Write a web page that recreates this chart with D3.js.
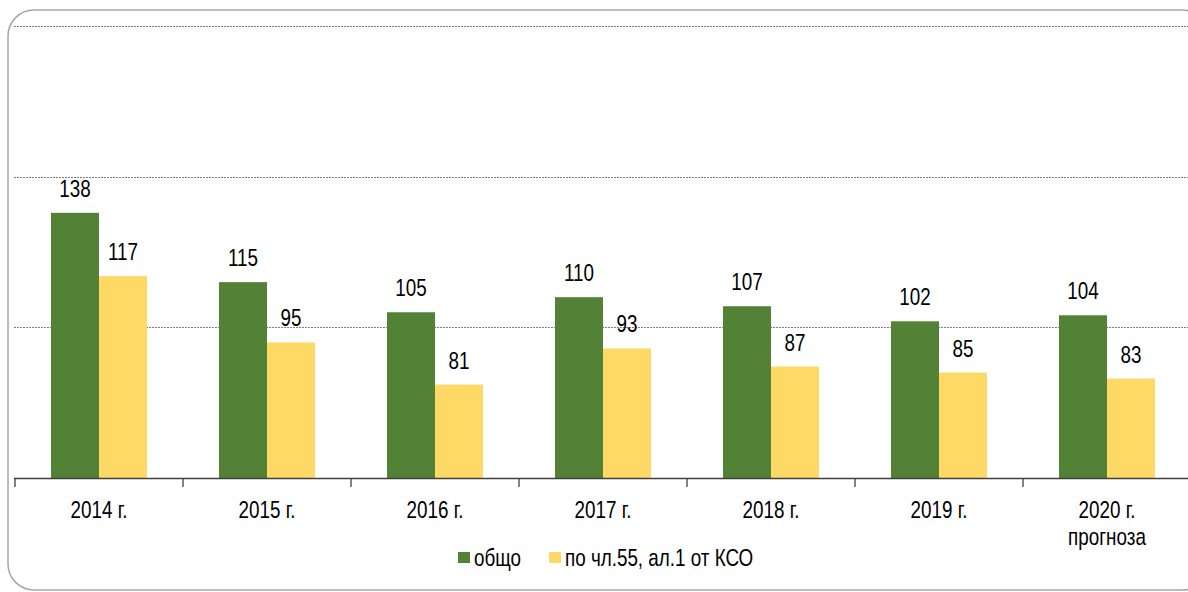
<!DOCTYPE html>
<html><head><meta charset="utf-8">
<script src="https://cdn.jsdelivr.net/npm/d3@7"></script>
<style>
html,body{margin:0;padding:0;background:#fff;}
svg{display:block;font-family:"Liberation Sans",Arial,sans-serif;}
</style></head>
<body><svg id="c" width="1188" height="592"></svg>
<script>
const categories = ["2014 г.","2015 г.","2016 г.","2017 г.","2018 г.","2019 г.","2020 г.|прогноза"];
const seriesNames = ["общо","по чл.55, ал.1 от КСО"];
const totalValues = [138,115,105,110,107,102,104];
const art55Values = [117,95,81,93,87,85,83];
const yTicks = [50,100,150,200];
const colors = ["#538135","#FFD966"];

const svg = d3.select("#c");
const FS = 24, SX = 0.785;

// frame
svg.append("rect").attr("x",8).attr("y",10).attr("width",1200).attr("height",580)
  .attr("rx",26).attr("ry",26).attr("fill","#fff").attr("stroke","#a6a6a6").attr("stroke-width",1.5);

const step = 168, left = 15;
const x0 = d3.scaleBand().domain(categories).range([left, left + step*categories.length])
  .paddingInner(72/168).paddingOuter(36/168);
const x1 = d3.scaleBand().domain(seriesNames).range([0, x0.bandwidth()]);
const y = d3.scaleLinear().domain([50,200]).range([478,26]);

// gridlines
svg.append("g").selectAll("line").data(yTicks.filter(t=>t>50)).join("line")
  .attr("x1",14).attr("x2",1188).attr("y1",d=>Math.round(y(d))+0.5).attr("y2",d=>Math.round(y(d))+0.5)
  .attr("stroke","#7f7f7f").attr("stroke-width",1).attr("stroke-dasharray","2,1");

const data = categories.map((c,i)=>({cat:c, vals:[totalValues[i], art55Values[i]]}));

const groups = svg.append("g").selectAll("g").data(data).join("g")
  .attr("transform",d=>`translate(${x0(d.cat)},0)`);
groups.selectAll("rect").data(d=>d.vals.map((v,j)=>({v, s:seriesNames[j], j}))).join("rect")
  .attr("x",d=>x1(d.s)).attr("width",x1.bandwidth())
  .attr("y",d=>y(d.v)).attr("height",d=>y(50)-y(d.v))
  .attr("fill",d=>colors[d.j]);
groups.selectAll("text").data(d=>d.vals.map((v,j)=>({v, s:seriesNames[j]}))).join("text")
  .attr("transform",d=>`translate(${x1(d.s)+x1.bandwidth()/2},${y(d.v)-16}) scale(${SX},1)`)
  .attr("text-anchor","middle").attr("font-size",FS).attr("fill","#000").text(d=>d.v);

// x axis
const ax = svg.append("g");
ax.append("line").attr("x1",14).attr("x2",1188).attr("y1",478.5).attr("y2",478.5).attr("stroke","#404040").attr("stroke-width",1.3);
const bounds = d3.range(categories.length+1).map(i=>left + i*x0.step());
ax.selectAll("line.t").data(bounds.filter(b=>b<1188)).join("line").attr("class","t")
  .attr("x1",d=>d).attr("x2",d=>d).attr("y1",478).attr("y2",487).attr("stroke","#404040").attr("stroke-width",1.3);
const labs = ax.selectAll("text").data(categories).join("text")
  .attr("transform",d=>`translate(${x0(d)+x0.bandwidth()/2},518) scale(${SX},1)`)
  .attr("text-anchor","middle").attr("font-size",FS).attr("fill","#000");
labs.each(function(d){
  const parts = d.split("|");
  d3.select(this).selectAll("tspan").data(parts).join("tspan")
    .attr("x",0).attr("dy",(p,i)=>i===0?0:27).text(p=>p);
});

// legend
const legendX = [458, 549];
const lg = svg.append("g").selectAll("g").data(seriesNames).join("g");
lg.append("rect").attr("x",(d,i)=>legendX[i]).attr("y",552).attr("width",12).attr("height",11).attr("fill",(d,i)=>colors[i]);
lg.append("text").attr("transform",(d,i)=>`translate(${legendX[i]+16},566) scale(${SX},1)`)
  .attr("font-size",FS).attr("fill","#000").text(d=>d);
</script></body></html>
